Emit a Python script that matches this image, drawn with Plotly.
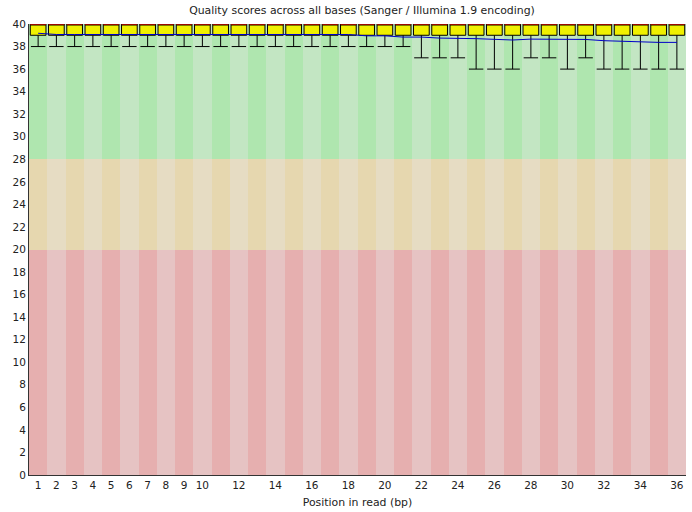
import plotly.graph_objects as go

# Per-base quality summary (Phred scores)
positions = list(range(1, 37))
lower_whisker = [38] * 21 + [37, 37, 37, 36, 36, 36, 37, 37, 36, 37, 36, 36, 36, 36, 36]
lower_quartile = [39] * 36
median = [40] * 36
upper_quartile = [40] * 36
upper_whisker = [40] * 36
mean = ([39.18] + [39.07] * 17 + [38.95, 38.95, 38.84, 38.84, 38.75, 38.75, 38.70,
        38.64, 38.58, 38.66, 38.63, 38.63, 38.63, 38.52, 38.46, 38.46, 38.37, 38.37])

tick_vals = [1, 2, 3, 4, 5, 6, 7, 8, 9, 10, 12, 14, 16, 18, 20, 22, 24, 26, 28, 30, 32, 34, 36]
tick_text = [str(v) for v in tick_vals]

# Quality zones: (bottom, top, dark colour, light colour)
zones = [
    (28, 40, "rgb(175,230,175)", "rgb(195,230,195)"),
    (20, 28, "rgb(230,215,175)", "rgb(230,220,195)"),
    (0, 20, "rgb(230,175,175)", "rgb(230,195,195)"),
]

FONT = "DejaVu Sans"
fig = go.Figure()

for lo, hi, dark, light in zones:
    fig.add_trace(go.Bar(
        x=positions, y=[hi - lo] * len(positions), base=lo, width=1,
        marker=dict(color=[dark if p % 2 else light for p in positions], line_width=0),
        hoverinfo="skip", showlegend=False,
    ))

fig.add_trace(go.Box(
    x=positions, q1=lower_quartile, median=median, q3=upper_quartile,
    lowerfence=lower_whisker, upperfence=upper_whisker,
    width=0.86, whiskerwidth=0.92, fillcolor="rgb(240,240,0)",
    line=dict(color="black", width=1), hoverinfo="skip", showlegend=False,
))

# Red median bars across each box
mx, my = [], []
for p, m in zip(positions, median):
    mx += [p - 0.43, p + 0.43, None]
    my += [m, m, None]
fig.add_trace(go.Scatter(x=mx, y=my, mode="lines", line=dict(color="rgb(200,0,0)", width=1.5),
                         hoverinfo="skip", showlegend=False))

fig.add_trace(go.Scatter(x=positions, y=mean, mode="lines", line=dict(color="rgb(0,0,200)", width=1),
                         hoverinfo="skip", showlegend=False))

fig.update_layout(
    width=692, height=512,
    margin=dict(l=29, r=6, t=24, b=35),
    paper_bgcolor="white", plot_bgcolor="white",
    barmode="overlay", bargap=0,
    font=dict(family=FONT, size=10.5, color="#222"),
    title=dict(text="Quality scores across all bases (Sanger / Illumina 1.9 encoding)",
               x=(362 - 29) / 657, xref="paper", xanchor="center",
               y=1 - 10 / 512, yref="container", yanchor="middle",
               font=dict(family=FONT, size=10.9, color="#222")),
    xaxis=dict(range=[0.5, 36.5], tickvals=tick_vals, ticktext=tick_text,
               showgrid=False, zeroline=False, showline=True, linecolor="#333", linewidth=1,
               ticks="", tickfont=dict(size=10.5),
               title=dict(text="Position in read (bp)", standoff=8,
                          font=dict(family=FONT, size=10.9, color="#222"))),
    yaxis=dict(range=[0, 40], tickvals=list(range(0, 41, 2)),
               showgrid=False, zeroline=False, showline=True, linecolor="#333", linewidth=1,
               ticks="", tickfont=dict(size=10.5)),
)

fig.write_html("out.html")
